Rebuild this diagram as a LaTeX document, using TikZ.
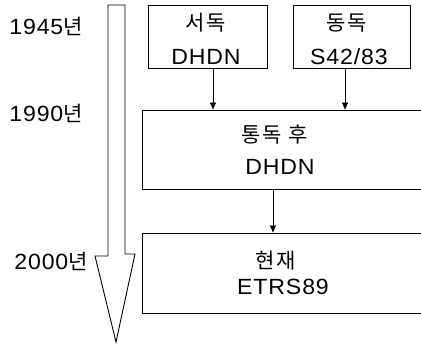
\documentclass[tikz,border=0pt]{standalone}
\usepackage{fontspec}
\setmainfont{Liberation Sans}[FakeStretch=1.05,LetterSpace=4]
\newfontfamily\kr{Noto Sans CJK KR}[LetterSpace=8]
\usetikzlibrary{arrows.meta}
\begin{document}
\begin{tikzpicture}[x=1pt,y=-1pt,
  box/.style={draw,line width=0.9pt,inner sep=0pt},
  txt/.style={inner sep=0pt,font=\fontsize{22}{26}\selectfont},
  kt/.style={inner sep=0pt,font=\fontsize{21}{25}\selectfont\kr},
  arr/.style={line width=0.7pt,-{Triangle[width=6pt,length=7pt]}}]
\useasboundingbox (0,0) rectangle (421,345);
% big time arrow
\draw[line width=0.9pt] (108,5) -- (125,5) -- (125,254) -- (135,254) -- (116,342)
  -- (95,256) -- (108,256) -- cycle;
% year labels
\node[txt] (y1) at (46,26) {1945{\fontsize{21}{25}\selectfont\kr 년}};
\node[txt] (y2) at (46,113) {1990{\fontsize{21}{25}\selectfont\kr 년}};
\node[txt] (y3) at (51,261) {2000{\fontsize{21}{25}\selectfont\kr 년}};
% boxes
\node[box,minimum width=119pt,minimum height=63pt] (b1) at (207.5,36.5) {};
\node[box,minimum width=117pt,minimum height=63pt] (b2) at (351.5,36.5) {};
\node[box,minimum width=284pt,minimum height=79pt] (b3) at (284,149.5) {};
\node[box,minimum width=284pt,minimum height=80pt] (b4) at (284,273) {};
% texts
\node[kt] (t1a) at (206,23) {서독};
\node[txt] (t1b) at (206,57) {DHDN};
\node[kt] (t2a) at (347,23) {동독};
\node[txt] (t2b) at (349,57) {S42/83};
\node[kt] (t3a) at (275,135) {통독 후};
\node[txt] (t3b) at (280,167) {DHDN};
\node[kt] (t4a) at (276,261) {현재};
\node[txt] (t4b) at (283,287) {ETRS89};
% connectors
\coordinate (c1) at (213,0);
\coordinate (c2) at (345,0);
\coordinate (c3) at (273,0);
\draw[arr] (b1.south -| c1) -- (b3.north -| c1);
\draw[arr] (b2.south -| c2) -- (b3.north -| c2);
\draw[arr] (b3.south -| c3) -- (b4.north -| c3);
\end{tikzpicture}
\end{document}
